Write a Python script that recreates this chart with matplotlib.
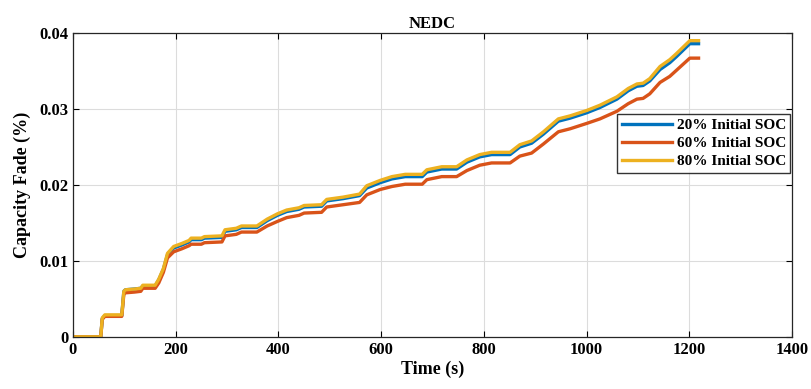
import matplotlib
matplotlib.use("Agg")
import matplotlib.pyplot as plt

plt.rcParams['font.family'] = ['Liberation Serif', 'DejaVu Serif']
plt.rcParams['font.weight'] = 'bold'

# time (s)
t = [0, 54, 57, 62, 95, 99, 102, 120, 132, 136, 160, 167, 176, 184, 196, 212,
     226, 230, 250, 256, 290, 296, 318, 328, 358, 378, 398, 416, 440, 450, 484,
     494, 526, 558, 572, 598, 621, 647, 680, 689, 718, 747, 767, 792, 815, 851,
     870, 893, 916, 945, 968, 1000, 1026, 1059, 1081, 1098, 1110, 1123, 1143,
     1162, 1175, 1201, 1218]

soc20 = [0, 0, 0.0024, 0.0028, 0.0028, 0.0060, 0.0062, 0.0063, 0.0064, 0.0067,
         0.0067, 0.0075, 0.0089, 0.0108, 0.0117, 0.0121, 0.0125, 0.0128, 0.0128,
         0.0130, 0.0131, 0.0139, 0.0141, 0.0144, 0.0144, 0.0153, 0.0160, 0.0165,
         0.0168, 0.0171, 0.0172, 0.0179, 0.0182, 0.0186, 0.0196, 0.0203, 0.0208,
         0.0211, 0.0211, 0.0217, 0.0221, 0.0221, 0.0230, 0.0237, 0.0240, 0.0240,
         0.0250, 0.0255, 0.0267, 0.0284, 0.0288, 0.0295, 0.0302, 0.0313, 0.0324,
         0.0330, 0.0331, 0.0337, 0.0352, 0.0361, 0.0369, 0.0386, 0.0386]

soc60 = [0, 0, 0.0023, 0.0027, 0.0027, 0.0056, 0.0058, 0.0059, 0.0060, 0.0064,
         0.0064, 0.0071, 0.0085, 0.0104, 0.0112, 0.0116, 0.0120, 0.0122, 0.0122,
         0.0124, 0.0125, 0.0133, 0.0135, 0.0138, 0.0138, 0.0146, 0.0152, 0.0157,
         0.0160, 0.0163, 0.0164, 0.0171, 0.0174, 0.0177, 0.0187, 0.0194, 0.0198,
         0.0201, 0.0201, 0.0207, 0.0211, 0.0211, 0.0219, 0.0226, 0.0229, 0.0229,
         0.0238, 0.0242, 0.0254, 0.0270, 0.0274, 0.0281, 0.0287, 0.0297, 0.0307,
         0.0313, 0.0314, 0.0320, 0.0335, 0.0343, 0.0351, 0.0367, 0.0367]

soc80 = [0, 0, 0.0025, 0.0029, 0.0029, 0.0060, 0.0062, 0.0063, 0.0064, 0.0068,
         0.0068, 0.0076, 0.0090, 0.0110, 0.0119, 0.0123, 0.0127, 0.0130, 0.0130,
         0.0132, 0.0133, 0.0141, 0.0143, 0.0146, 0.0146, 0.0155, 0.0162, 0.0167,
         0.0170, 0.0173, 0.0174, 0.0181, 0.0184, 0.0188, 0.0199, 0.0206, 0.0211,
         0.0214, 0.0214, 0.0220, 0.0224, 0.0224, 0.0233, 0.0240, 0.0243, 0.0243,
         0.0253, 0.0258, 0.0270, 0.0287, 0.0291, 0.0298, 0.0305, 0.0316, 0.0327,
         0.0333, 0.0334, 0.0340, 0.0356, 0.0365, 0.0373, 0.0390, 0.0390]

labels = ['20% Initial SOC', '60% Initial SOC', '80% Initial SOC']
colors = ['#0072BD', '#D95319', '#EDB120']

fig = plt.figure(figsize=(8.11, 3.89), dpi=100)
ax = fig.add_axes([0.09, 0.134, 0.8866, 0.781])

for y, lab, c in zip([soc20, soc60, soc80], labels, colors):
    ax.plot(t, y, color=c, lw=2.4, label=lab)

ax.set_xlim(0, 1400)
ax.set_ylim(0, 0.04)
ax.set_xticks(range(0, 1401, 200))
ax.set_yticks([0, 0.01, 0.02, 0.03, 0.04])
ax.set_yticklabels(['0', '0.01', '0.02', '0.03', '0.04'])
ax.grid(True, color='#dcdcdc', lw=0.8)
ax.set_axisbelow(True)
ax.tick_params(direction='in', top=True, right=True, labelsize=12, length=4)
for s in ax.spines.values():
    s.set_linewidth(0.9)
    s.set_color('#262626')

ax.set_title('NEDC', fontsize=12, fontweight='bold', pad=4)
ax.set_xlabel('Time (s)', fontsize=13, fontweight='bold', labelpad=2)
ax.set_ylabel('Capacity Fade (%)', fontsize=13, fontweight='bold', labelpad=6)

leg = ax.legend(loc='upper right', bbox_to_anchor=(1.0, 0.74), fontsize=11,
                frameon=True, fancybox=False, edgecolor='black',
                handlelength=3.3, borderpad=0.3, labelspacing=0.3,
                handletextpad=0.3, borderaxespad=0.1)
leg.get_frame().set_linewidth(1.0)

fig.savefig('out.png', dpi=100)
